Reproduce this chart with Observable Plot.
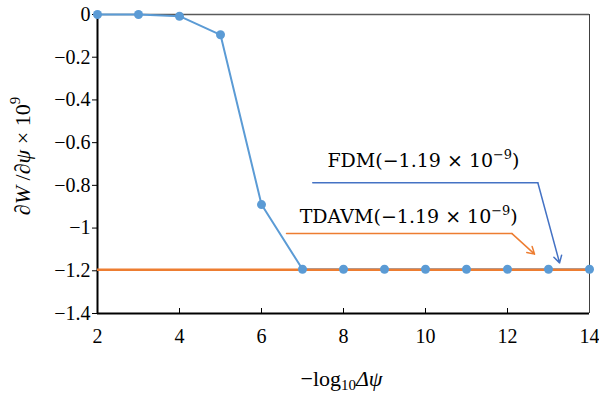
<!DOCTYPE html>
<html><head><meta charset="utf-8">
<script src="https://cdn.jsdelivr.net/npm/d3@7"></script>
<script src="https://cdn.jsdelivr.net/npm/@observablehq/plot@0.6"></script>
<style>
body{margin:0;background:#fff}
</style>
</head><body><div id="chart"></div>
<script>
// ---- data ----
const xValues = [2, 3, 4, 5, 6, 7, 8, 9, 10, 11, 12, 13, 14];
const fdmValues = [0, 0, -0.008, -0.095, -0.89, -1.193, -1.193, -1.193, -1.193, -1.193, -1.193, -1.193, -1.193];
const tdavmValue = -1.195;
const xTicks = [2, 4, 6, 8, 10, 12, 14];
const yTicks = [0, -0.2, -0.4, -0.6, -0.8, -1, -1.2, -1.4];
const yTitle = "∂W /∂ψ × 109";
const xTitle = "−log10Δψ";
const fdmLabel = "FDM(−1.19 × 10−9)";
const tdavmLabel = "TDAVM(−1.19 × 10−9)";
// annotation anchors (data coordinates)
const fdmLabelAt = [9.95, -0.715];
const fdmLeader = [[7.25, -0.788], [12.74, -0.788]];
const fdmTip = [13.27, -1.163];
const tdavmLabelAt = [9.59, -0.978];
const tdavmLeader = [[6.61, -1.026], [12.11, -1.026]];
const tdavmTip = [12.66, -1.122];

const data = xValues.map((x, i) => ({x, y: fdmValues[i]}));
const toXY = a => a.map(([x, y]) => ({x, y}));
const fmt = d => d === 0 ? "0" : "−" + Math.abs(d);

const blue = "#5B9BD5", orange = "#ED7D31", darkBlue = "#4472C4";
const serif = "'Liberation Serif', 'Times New Roman', serif";
const wide = "'DejaVu Serif', serif";

const plot = Plot.plot({
  width: 599, height: 394,
  marginLeft: 97, marginRight: 10, marginTop: 14, marginBottom: 81,
  x: {domain: [2, 14], axis: null},
  y: {domain: [-1.4, 0], axis: null},
  style: {fontFamily: serif, fontSize: "20px", background: "#fff", color: "#000", overflow: "visible"},
  marks: [
    Plot.ruleY([0], {stroke: "#595959", strokeWidth: 1.5}),
    Plot.ruleX([14], {stroke: "#404040", strokeWidth: 1}),
    // y ticks (outward) and labels
    Plot.tickY(yTicks, {y: d => d, insetRight: 487, dx: -5, stroke: "#000", strokeWidth: 1}),
    Plot.text(yTicks, {y: d => d, frameAnchor: "left", textAnchor: "end", dx: -7, text: fmt, fontSize: 20, fontFamily: serif}),
    // x ticks (inward) and labels
    Plot.tickX(xTicks.slice(1, -1), {x: d => d, insetTop: 294, stroke: "#000", strokeWidth: 1}),
    Plot.text(xTicks, {x: d => d, frameAnchor: "bottom", lineAnchor: "top", dy: 15, text: d => String(d), fontSize: 20, fontFamily: serif}),
    Plot.ruleX([2], {stroke: "#000", strokeWidth: 2}),
    Plot.ruleY([-1.4], {stroke: "#000", strokeWidth: 2}),
    Plot.line(data, {x: "x", y: "y", stroke: blue, strokeWidth: 2}),
    Plot.ruleY([tdavmValue], {stroke: orange, strokeWidth: 2.5}),
    Plot.dot(data, {x: "x", y: "y", r: 4.5, fill: blue}),
    // annotations
    Plot.line(toXY(fdmLeader), {x: "x", y: "y", stroke: darkBlue, strokeWidth: 1.5}),
    Plot.arrow([0], {x1: () => fdmLeader[1][0], y1: () => fdmLeader[1][1], x2: () => fdmTip[0], y2: () => fdmTip[1], stroke: darkBlue, strokeWidth: 1.5, headLength: 8}),
    Plot.line(toXY(tdavmLeader), {x: "x", y: "y", stroke: orange, strokeWidth: 1.5}),
    Plot.arrow([0], {x1: () => tdavmLeader[1][0], y1: () => tdavmLeader[1][1], x2: () => tdavmTip[0], y2: () => tdavmTip[1], stroke: orange, strokeWidth: 1.5, headLength: 8}),
    Plot.text([fdmLabel], {x: () => fdmLabelAt[0], y: () => fdmLabelAt[1], text: d => d, lineAnchor: "bottom", fontSize: 19, fontFamily: wide}),
    Plot.text([tdavmLabel], {x: () => tdavmLabelAt[0], y: () => tdavmLabelAt[1], text: d => d, lineAnchor: "bottom", fontSize: 19, fontFamily: wide}),
    Plot.text([yTitle], {frameAnchor: "left", textAnchor: "middle", rotate: -90, dx: -75, dy: -8, text: d => d, fontSize: 22, fontFamily: serif}),
    Plot.text([xTitle], {frameAnchor: "bottom", textAnchor: "middle", dx: -2, dy: 72, text: d => d, lineAnchor: "bottom", fontSize: 22, fontFamily: serif})
  ]
});
document.getElementById("chart").appendChild(plot);

function rich(el, parts, fs) {
  el.textContent = "";
  let shift = 0;
  for (const p of parts) {
    const ts = document.createElementNS("http://www.w3.org/2000/svg", "tspan");
    const target = p.sup ? -0.42 * fs : p.sub ? 0.22 * fs : 0;
    if (target - shift !== 0) ts.setAttribute("dy", target - shift);
    shift = target;
    if (p.sup || p.sub) ts.setAttribute("font-size", 0.68 * fs);
    if (p.i) ts.setAttribute("font-style", "italic");
    ts.textContent = p.t;
    el.appendChild(ts);
  }
}
plot.querySelectorAll("text").forEach(el => {
  const t = el.textContent;
  if (t === yTitle) rich(el, [{t: "∂"}, {t: "W", i: true}, {t: " /∂"}, {t: "ψ", i: true}, {t: " × 10"}, {t: "9", sup: true}], 22);
  else if (t === xTitle) rich(el, [{t: "−log"}, {t: "10", sub: true}, {t: "Δψ", i: true}], 22);
  else if (t === fdmLabel) rich(el, [{t: "FDM(−1.19 × 10"}, {t: "−9", sup: true}, {t: ")"}], 19);
  else if (t === tdavmLabel) rich(el, [{t: "TDAVM(−1.19 × 10"}, {t: "−9", sup: true}, {t: ")"}], 19);
});
</script>
</body></html>
